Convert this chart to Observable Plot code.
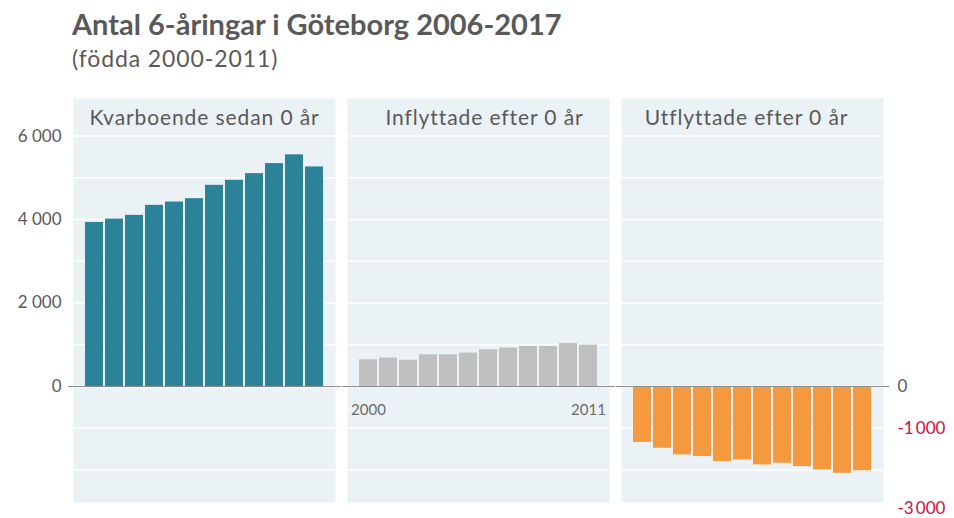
<!DOCTYPE html>
<html><head><meta charset="utf-8">
<script src="https://cdn.jsdelivr.net/npm/d3@7"></script>
<script src="https://cdn.jsdelivr.net/npm/@observablehq/plot@0.6"></script>
<style>
body{margin:0;background:#fff;font-family:Lato,"Open Sans",sans-serif;}
#wrap{position:relative;width:954px;height:518px;overflow:hidden;}
#title{position:absolute;left:72px;top:6px;font-size:29px;font-weight:bold;color:#595959;white-space:nowrap;}
#sub{position:absolute;left:72px;top:44px;font-size:23px;letter-spacing:0.9px;color:#595959;white-space:nowrap;}
#chart{position:absolute;left:0;top:90px;}
#chart text.ftitle{letter-spacing:0.9px;}
</style></head><body>
<div id="wrap">
<div id="title">Antal 6-åringar i Göteborg 2006-2017</div>
<div id="sub">(födda 2000-2011)</div>
<div id="chart"></div>
</div>
<script>
const years = [2000,2001,2002,2003,2004,2005,2006,2007,2008,2009,2010,2011];
const panels = ["Kvarboende sedan 0 år","Inflyttade efter 0 år","Utflyttade efter 0 år"];
const kvarboende = [3930,4010,4100,4340,4420,4500,4820,4940,5100,5340,5550,5260];
const inflyttade = [640,680,630,760,760,800,880,920,960,960,1030,990];
const utflyttade = [-1340,-1480,-1640,-1680,-1800,-1760,-1880,-1840,-1920,-2000,-2080,-2020];
const panelColors = ["#2c8299","#bfbfbf","#f4993f"];
const leftTicks = [0,2000,4000,6000];
const gridTicks = [-2000,-1000,0,1000,2000,3000,4000,5000,6000];
const rightTicksGrey = [0];
const rightTicksRed = [-1000];
const rightTicksBottom = [-3000];
const xLabelYears = [2000,2011];

const series = [kvarboende, inflyttade, utflyttade];
const rows = panels.flatMap((p,i)=>years.map((yr,j)=>({panel:p, year:yr, value:series[i][j]})));
const fmtLeft = d => d===0 ? "0" : d3.format(",")(d).replace(",", " ");
const fmtRight = d => d===0 ? "0" : d3.format(",")(d).replace(",", "\u2009").replace("−", "-");
const titleDx = [0, 6, -6];

const chart = Plot.plot({
  width: 954, height: 428,
  marginTop: 8, marginBottom: 16, marginLeft: 72, marginRight: 71,
  style: {fontFamily: "Lato, 'Open Sans', sans-serif", background: "transparent"},
  fx: {domain: panels, axis: null, paddingInner: 0.044, paddingOuter: 0},
  x: {type: "band", domain: years, paddingInner: 0.12, paddingOuter: 0.6, axis: null},
  y: {domain: [-2780, 6900]},
  color: {domain: panels, range: panelColors},
  marks: [
    Plot.frame({fill: "#eaf2f6", stroke: null}),
    Plot.gridY(gridTicks, {stroke: "white", strokeOpacity: 1, strokeWidth: 1.5}),
    Plot.barY(rows, {fx: "panel", x: "year", y: "value", fill: "panel"}),
    Plot.ruleY([0], {stroke: "#8f8f8f", strokeWidth: 1.2, insetLeft: -5, insetRight: -6}),
    ...panels.map((p, i) => Plot.text([p], {fx: d=>d, text: d=>d, frameAnchor: "top", lineAnchor: "middle", dy: 20, dx: titleDx[i], fontSize: 21, fill: "#595959"})),
    Plot.text(xLabelYears, {fx: ()=>panels[1], x: d=>d, y: 0, dy: 24, text: d=>String(d), fontSize: 15, fill: "#6b6b6b"}),
    Plot.axisY(leftTicks, {anchor: "left", tickSize: 0, tickPadding: 12, tickFormat: fmtLeft, fontSize: 17, color: "#595959", label: null}),
    Plot.text(rightTicksGrey, {fx: ()=>panels[2], y: d=>d, text: fmtRight, frameAnchor: "right", textAnchor: "start", dx: 14, fontSize: 17, fill: "#595959"}),
    Plot.text(rightTicksRed, {fx: ()=>panels[2], y: d=>d, text: fmtRight, frameAnchor: "right", textAnchor: "start", dx: 14, fontSize: 17, fill: "#d0103a"}),
    Plot.text(rightTicksBottom, {fx: ()=>panels[2], y: d=>d, text: fmtRight, frameAnchor: "right", textAnchor: "start", dx: 14, dy: -3, fontSize: 17, fill: "#d0103a"})
  ]
});
document.getElementById("chart").appendChild(chart);
// facet titles: slight letter spacing like the reference
d3.select(chart).selectAll("text").filter(function(){ return panels.includes(this.textContent); }).classed("ftitle", true);
</script>
</body></html>
